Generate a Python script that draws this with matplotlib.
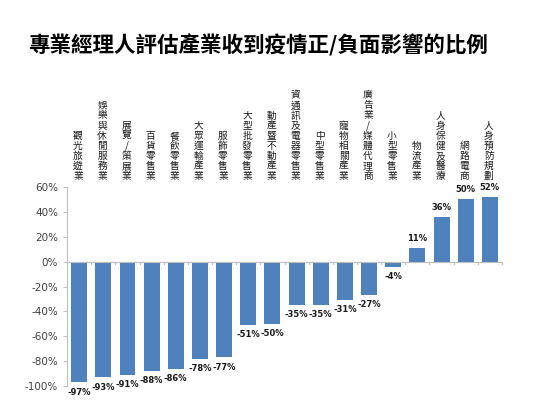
import matplotlib
matplotlib.use("Agg")
import matplotlib.pyplot as plt
import matplotlib.transforms as mtransforms
from matplotlib.ticker import FuncFormatter

plt.rcParams['font.family'] = ['Noto Sans CJK TC', 'DejaVu Sans']

# industries and share of managers rating the impact (negative = hurt)
categories = ["觀光旅遊業", "娛樂與休閒服務業", "展覽/策展業", "百貨零售業", "餐飲零售業",
              "大眾運輸產業", "服飾零售業", "大型批發零售業", "動產暨不動產業",
              "資通訊及電器零售業", "中型零售業", "寵物相關產業", "廣告業/媒體代理商",
              "小型零售業", "物流產業", "人身保健及醫療", "網路電商", "人身預防規劃"]
values = [-97, -93, -91, -88, -86, -78, -77, -51, -50, -35, -35, -31, -27, -4, 11, 36, 50, 52]
yticks = [60, 40, 20, 0, -20, -40, -60, -80, -100]

title = "專業經理人評估產業收到疫情正/負面影響的比例"

fig = plt.figure(figsize=(5.59, 4.09), dpi=100)
ax = fig.add_axes([0.12, 0.056, 0.778, 0.487])

x = list(range(len(values)))
ax.bar(x, values, width=0.66, color="#4f81bd", zorder=2)

ax.set_xlim(-0.5, len(values) - 0.5)
ax.set_ylim(-100, 60)
ax.set_yticks(yticks)
ax.yaxis.set_major_formatter(FuncFormatter(lambda v, p: "{:d}%".format(int(v))))

grey = "#bfbfbf"
for s in ["top", "right", "bottom"]:
    ax.spines[s].set_visible(False)
ax.spines["left"].set_color(grey)
ax.spines["left"].set_linewidth(0.8)
ax.tick_params(axis="y", colors=grey, labelcolor="#404040", labelsize=7.5, length=3, width=0.8,
               labelfontfamily="DejaVu Sans")

# zero line with category-boundary ticks
ax.axhline(0, color=grey, lw=0.8, zorder=3)
ax.set_xticks([])
for b in range(len(values) + 1):
    ax.plot([b - 0.5, b - 0.5], [0, -1.6], color=grey, lw=0.8, zorder=3, clip_on=False)

# value labels
for xi, v in zip(x, values):
    off = 7 if v > 0 else -7
    ax.annotate("{:d}%".format(v), (xi, v), xytext=(0, off), textcoords="offset points",
                ha="center", va="center", fontsize=6, fontweight="bold", color="#1a1a1a",
                family="DejaVu Sans")

# vertical category labels along the top
trans = mtransforms.blended_transform_factory(ax.transData, ax.transAxes)
for xi, c in zip(x, categories):
    ax.text(xi - 0.05, 1.03, "\n".join(c), transform=trans, ha="center", va="bottom",
            fontsize=7, linespacing=1.01, color="#1a1a1a")

fig.text(0.462, 0.89, title, ha="center", va="center", fontsize=15.5, fontweight="bold",
         color="black")

fig.savefig("out.png", dpi=100)
